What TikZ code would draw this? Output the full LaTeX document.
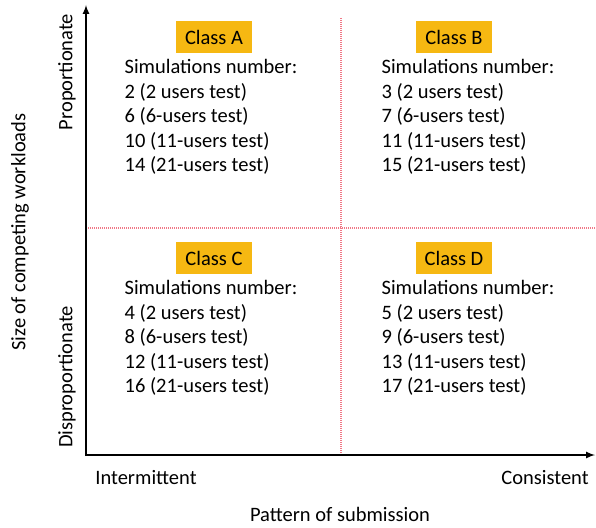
\documentclass[tikz,border=0pt]{standalone}
\usepackage{fontspec}
\setmainfont{Carlito}
\usepackage{tikz}
\usetikzlibrary{positioning,calc}
\definecolor{classgold}{RGB}{246,184,18}
\definecolor{gridred}{RGB}{240,120,135}

\begin{document}
\begin{tikzpicture}[x=1pt,y=-1pt,font=\fontsize{20.5}{24.5}\selectfont,
	classbox/.style={fill=classgold,inner xsep=9pt,minimum height=32pt},
	simlist/.style={align=left,inner sep=0pt},
	axislabel/.style={inner sep=0pt},
	gridline/.style={gridred,line width=1.2pt,dash pattern=on 1pt off 1pt}]
	\useasboundingbox (0,0) rectangle (596,527);
	% axes
	\coordinate (o) at (86,455);
	\coordinate (xend) at (595,455);
	\coordinate (yend) at (86,5);
	\coordinate (hl) at (86,228);
	\coordinate (hr) at (596,228);
	\coordinate (vt) at (341,18);
	\coordinate (vb) at (341,455);
	\draw[gridline] (hl) -- (hr);
	\draw[gridline] (vt) -- (vb);
	\draw[line width=2pt,-latex] (o) -- (xend);
	\draw[line width=2pt,-latex] ($(o)+(0,1)$) -- (yend);
	% classes
	\node[classbox] (clsA) at (214,37) {Class A};
	\node[classbox] (clsB) at (454,37) {Class B};
	\node[classbox] (clsC) at (214,258) {Class C};
	\node[classbox] (clsD) at (454,258) {Class D};
	%
	\node[simlist,below=6pt of clsA,xshift=-3pt] (simA) {Simulations number:\\2 (2 users test)\\6 (6-users test)\\10 (11-users test)\\14 (21-users test)};
	\node[simlist,below=6pt of clsB,xshift=14pt] (simB) {Simulations number:\\3 (2 users test)\\7 (6-users test)\\11 (11-users test)\\15 (21-users test)};
	\node[simlist,below=6pt of clsC,xshift=-3pt] (simC) {Simulations number:\\4 (2 users test)\\8 (6-users test)\\12 (11-users test)\\16 (21-users test)};
	\node[simlist,below=6pt of clsD,xshift=14pt] (simD) {Simulations number:\\5 (2 users test)\\9 (6-users test)\\13 (11-users test)\\17 (21-users test)};
	% axis texts
	\node[axislabel,rotate=90] (prop) at (67,72) {Proportionate};
	\node[axislabel,rotate=90] (disprop) at (67,377) {Disproportionate};
	\node[axislabel,rotate=90] (ylab) at (20,232) {Size of competing workloads};
	\node[axislabel] (inter) at (146,478) {Intermittent};
	\node[axislabel] (cons) at (545,478) {Consistent};
	\node[axislabel] (xlab) at (340,514) {Pattern of submission};
\end{tikzpicture}
\end{document}
